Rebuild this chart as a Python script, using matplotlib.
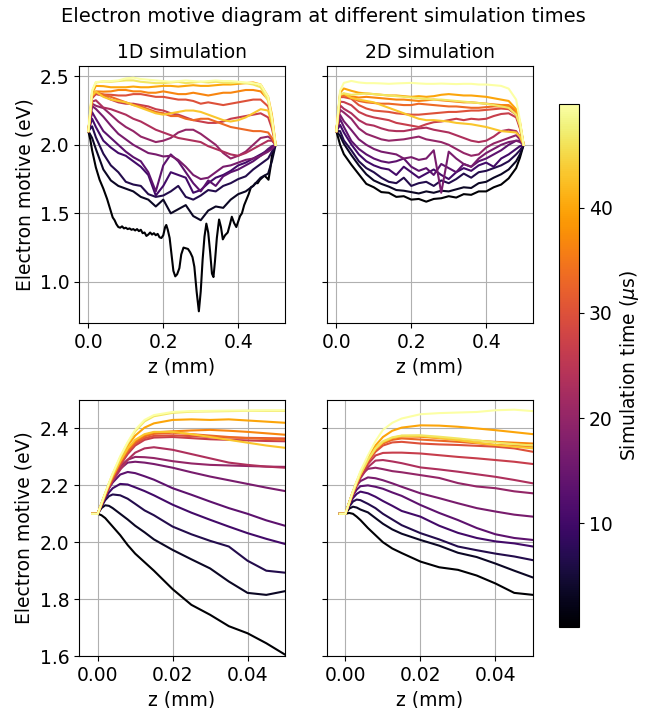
import matplotlib
matplotlib.use("Agg")
import matplotlib.pyplot as plt
from matplotlib import cm, colors

plt.rcParams["font.size"] = 13.5
plt.rcParams["axes.titlesize"] = 13.5
plt.rcParams["figure.titlesize"] = 14

# simulation times of the stored snapshots (us)
TIMES_US = [0.1, 3.4, 6.7, 10.1, 13.4, 16.7, 20.0, 23.3, 26.6, 29.9,
            33.3, 36.6, 39.9, 43.2, 46.5, 49.9]

# full gap profile (mm)
Z_PROFILE = [0.0, 0.01, 0.02, 0.04, 0.06, 0.08, 0.10, 0.12, 0.14, 0.16,
             0.18, 0.20, 0.22, 0.24, 0.26, 0.28, 0.30, 0.32, 0.34, 0.36,
             0.38, 0.40, 0.42, 0.44, 0.46, 0.48, 0.49, 0.50]

# first snapshot of the 1D run is stored on a finer mesh
Z_1D_FIRST = [0.0, 0.005, 0.01, 0.02, 0.03, 0.04, 0.05, 0.055, 0.06, 0.065,
              0.07, 0.075, 0.08, 0.085, 0.09, 0.095, 0.10, 0.105, 0.11, 0.115,
              0.12, 0.125, 0.13, 0.135, 0.14, 0.145, 0.15, 0.155, 0.16, 0.165,
              0.17, 0.175, 0.18, 0.185, 0.19, 0.195, 0.20, 0.205, 0.208, 0.212,
              0.217, 0.222, 0.227, 0.232, 0.237, 0.243, 0.248, 0.254, 0.26, 0.266,
              0.272, 0.278, 0.283, 0.289, 0.295, 0.30, 0.305, 0.31, 0.315, 0.32,
              0.325, 0.33, 0.334, 0.338, 0.343, 0.349, 0.354, 0.359, 0.365, 0.372,
              0.378, 0.383, 0.389, 0.395, 0.40, 0.405, 0.41, 0.416, 0.422, 0.428,
              0.434, 0.44, 0.446, 0.452, 0.458, 0.464, 0.47, 0.476, 0.481, 0.486,
              0.49, 0.495, 0.50]
V_1D_FIRST = [2.10, 2.04, 1.96, 1.835, 1.745, 1.68, 1.605, 1.56, 1.515, 1.47,
              1.45, 1.42, 1.40, 1.395, 1.405, 1.39, 1.395, 1.385, 1.39, 1.38,
              1.385, 1.375, 1.385, 1.37, 1.38, 1.355, 1.36, 1.335, 1.345, 1.36,
              1.345, 1.355, 1.34, 1.35, 1.325, 1.32, 1.34, 1.40, 1.415, 1.38,
              1.32, 1.20, 1.08, 1.04, 1.055, 1.10, 1.20, 1.25, 1.245, 1.24,
              1.215, 1.18, 1.11, 0.93, 0.785, 0.93, 1.16, 1.33, 1.425, 1.36,
              1.22, 1.06, 1.035, 1.15, 1.32, 1.455, 1.40, 1.31, 1.34, 1.36,
              1.42, 1.475, 1.43, 1.40, 1.44, 1.48, 1.50, 1.56, 1.60, 1.64,
              1.69, 1.70, 1.72, 1.72, 1.745, 1.76, 1.775, 1.76, 1.745, 1.83,
              1.92, 1.97, 2.00]

# 1D run, snapshots 2..16 on Z_PROFILE
V_1D_PROFILE = [
    [2.10, 2.05, 1.97, 1.82, 1.74, 1.70, 1.68, 1.66, 1.62, 1.60, 1.55, 1.60, 1.50, 1.53,
     1.56, 1.48, 1.45, 1.52, 1.55, 1.54, 1.60, 1.64, 1.66, 1.70, 1.76, 1.79, 1.88, 2.00],
    [2.10, 2.135, 2.055, 1.935, 1.85, 1.80, 1.73, 1.71, 1.70, 1.64, 1.62, 1.63, 1.66, 1.70,
     1.62, 1.60, 1.63, 1.67, 1.66, 1.70, 1.72, 1.75, 1.77, 1.82, 1.86, 1.90, 1.95, 2.00],
    [2.10, 2.19, 2.13, 2.03, 1.98, 1.94, 1.92, 1.88, 1.84, 1.78, 1.63, 1.70, 1.80, 1.78,
     1.76, 1.65, 1.67, 1.72, 1.76, 1.78, 1.81, 1.85, 1.87, 1.90, 1.93, 1.96, 1.98, 2.00],
    [2.10, 2.238, 2.19, 2.10, 2.05, 2.00, 1.95, 1.91, 1.88, 1.80, 1.66, 1.85, 1.93, 1.88,
     1.80, 1.72, 1.66, 1.74, 1.70, 1.77, 1.80, 1.82, 1.85, 1.88, 1.92, 1.97, 1.99, 2.00],
    [2.10, 2.283, 2.262, 2.205, 2.14, 2.08, 2.04, 2.00, 1.97, 1.94, 1.93, 1.915, 1.92, 1.89,
     1.84, 1.78, 1.75, 1.76, 1.80, 1.84, 1.85, 1.87, 1.89, 1.90, 1.92, 1.95, 1.97, 2.00],
    [2.10, 2.30, 2.285, 2.268, 2.22, 2.17, 2.13, 2.10, 2.06, 2.04, 2.02, 2.03, 2.05, 2.09,
     2.11, 2.11, 2.08, 2.04, 2.00, 1.94, 1.90, 1.92, 1.95, 2.00, 2.05, 2.06, 2.04, 2.00],
    [2.10, 2.315, 2.325, 2.272, 2.26, 2.24, 2.22, 2.19, 2.17, 2.14, 2.11, 2.09, 2.07, 2.05,
     2.04, 2.03, 2.02, 1.99, 1.97, 1.95, 1.93, 1.92, 1.94, 1.97, 2.00, 2.03, 2.03, 2.00],
    [2.10, 2.34, 2.37, 2.358, 2.33, 2.31, 2.30, 2.30, 2.29, 2.28, 2.26, 2.25, 2.23, 2.22,
     2.20, 2.18, 2.17, 2.16, 2.16, 2.17, 2.19, 2.20, 2.21, 2.22, 2.23, 2.20, 2.12, 2.00],
    [2.10, 2.347, 2.376, 2.367, 2.365, 2.36, 2.36, 2.37, 2.37, 2.36, 2.35, 2.35, 2.34, 2.33,
     2.33, 2.32, 2.30, 2.31, 2.30, 2.29, 2.30, 2.31, 2.32, 2.33, 2.33, 2.28, 2.16, 2.00],
    [2.10, 2.352, 2.385, 2.366, 2.35, 2.33, 2.31, 2.29, 2.28, 2.26, 2.24, 2.23, 2.21, 2.21,
     2.19, 2.18, 2.19, 2.19, 2.17, 2.15, 2.13, 2.12, 2.11, 2.10, 2.10, 2.09, 2.05, 2.00],
    [2.10, 2.357, 2.39, 2.388, 2.39, 2.40, 2.40, 2.39, 2.39, 2.38, 2.38, 2.39, 2.38, 2.37,
     2.37, 2.38, 2.37, 2.36, 2.37, 2.38, 2.38, 2.39, 2.40, 2.40, 2.39, 2.33, 2.20, 2.00],
    [2.10, 2.375, 2.43, 2.428, 2.42, 2.42, 2.42, 2.425, 2.42, 2.42, 2.425, 2.43, 2.43, 2.425,
     2.43, 2.435, 2.43, 2.43, 2.435, 2.44, 2.44, 2.445, 2.45, 2.455, 2.44, 2.35, 2.22, 2.00],
    [2.10, 2.36, 2.388, 2.35, 2.33, 2.32, 2.31, 2.29, 2.27, 2.25, 2.23, 2.22, 2.23, 2.24,
     2.25, 2.25, 2.24, 2.22, 2.20, 2.18, 2.17, 2.18, 2.20, 2.23, 2.26, 2.25, 2.15, 2.00],
    [2.10, 2.39, 2.455, 2.462, 2.46, 2.465, 2.47, 2.47, 2.46, 2.455, 2.45, 2.45, 2.455, 2.46,
     2.45, 2.455, 2.46, 2.455, 2.46, 2.455, 2.45, 2.455, 2.45, 2.44, 2.42, 2.32, 2.18, 2.00],
    [2.10, 2.395, 2.458, 2.463, 2.465, 2.47, 2.485, 2.49, 2.48, 2.475, 2.47, 2.465, 2.46, 2.465,
     2.47, 2.465, 2.46, 2.465, 2.47, 2.465, 2.465, 2.46, 2.455, 2.45, 2.44, 2.35, 2.20, 2.00],
]

# 2D run (axis average), all snapshots on Z_PROFILE
V_2D_PROFILE = [
    [2.10, 2.00, 1.932, 1.855, 1.785, 1.715, 1.69, 1.655, 1.65, 1.62, 1.625, 1.60, 1.605, 1.585,
     1.605, 1.61, 1.625, 1.615, 1.64, 1.635, 1.66, 1.66, 1.69, 1.71, 1.755, 1.83, 1.905, 2.00],
    [2.10, 2.065, 2.008, 1.925, 1.85, 1.785, 1.74, 1.715, 1.695, 1.67, 1.665, 1.655, 1.645, 1.66,
     1.65, 1.665, 1.66, 1.675, 1.69, 1.685, 1.72, 1.73, 1.76, 1.785, 1.82, 1.88, 1.93, 2.00],
    [2.10, 2.10, 2.032, 1.96, 1.88, 1.83, 1.80, 1.76, 1.73, 1.72, 1.76, 1.70, 1.72, 1.73,
     1.70, 1.74, 1.72, 1.75, 1.79, 1.76, 1.80, 1.81, 1.83, 1.85, 1.88, 1.93, 1.96, 2.00],
    [2.10, 2.145, 2.09, 2.003, 1.93, 1.88, 1.85, 1.83, 1.82, 1.78, 1.84, 1.80, 1.76, 1.79,
     1.82, 1.78, 1.75, 1.80, 1.83, 1.81, 1.85, 1.87, 1.84, 1.90, 1.93, 1.97, 1.99, 2.00],
    [2.10, 2.188, 2.131, 2.028, 1.97, 1.93, 1.90, 1.88, 1.87, 1.88, 1.90, 1.84, 1.81, 1.83,
     1.78, 1.86, 1.83, 1.80, 1.86, 1.84, 1.88, 1.90, 1.93, 1.96, 2.00, 2.03, 2.03, 2.00],
    [2.10, 2.218, 2.172, 2.108, 2.04, 2.00, 1.97, 1.95, 1.94, 1.93, 1.90, 1.91, 1.89, 1.90,
     1.96, 1.65, 1.95, 1.90, 1.86, 1.84, 1.90, 1.94, 1.97, 2.00, 2.02, 2.03, 2.02, 2.00],
    [2.10, 2.255, 2.236, 2.19, 2.12, 2.08, 2.06, 2.04, 2.03, 2.035, 2.04, 2.05, 2.06, 2.04,
     2.03, 2.02, 2.00, 1.97, 1.94, 1.92, 1.93, 1.98, 2.01, 2.03, 2.05, 2.07, 2.04, 2.00],
    [2.10, 2.288, 2.263, 2.23, 2.18, 2.15, 2.14, 2.12, 2.105, 2.10, 2.10, 2.11, 2.12, 2.125,
     2.11, 2.10, 2.09, 2.07, 2.05, 2.03, 2.02, 2.03, 2.06, 2.10, 2.11, 2.10, 2.06, 2.00],
    [2.10, 2.315, 2.312, 2.289, 2.24, 2.215, 2.20, 2.19, 2.18, 2.16, 2.15, 2.14, 2.13, 2.15,
     2.165, 2.17, 2.18, 2.19, 2.18, 2.19, 2.185, 2.19, 2.21, 2.225, 2.23, 2.20, 2.12, 2.00],
    [2.10, 2.348, 2.348, 2.336, 2.29, 2.265, 2.25, 2.245, 2.24, 2.23, 2.225, 2.22, 2.22, 2.225,
     2.23, 2.235, 2.24, 2.24, 2.245, 2.25, 2.25, 2.255, 2.26, 2.265, 2.26, 2.22, 2.13, 2.00],
    [2.10, 2.355, 2.362, 2.342, 2.32, 2.31, 2.305, 2.30, 2.30, 2.295, 2.29, 2.29, 2.30, 2.295,
     2.29, 2.285, 2.28, 2.28, 2.275, 2.27, 2.27, 2.275, 2.28, 2.28, 2.28, 2.24, 2.15, 2.00],
    [2.10, 2.362, 2.371, 2.353, 2.345, 2.35, 2.345, 2.34, 2.335, 2.33, 2.33, 2.325, 2.32, 2.325,
     2.33, 2.325, 2.32, 2.315, 2.31, 2.31, 2.305, 2.30, 2.295, 2.29, 2.29, 2.25, 2.16, 2.00],
    [2.10, 2.38, 2.411, 2.394, 2.38, 2.375, 2.37, 2.365, 2.36, 2.36, 2.355, 2.35, 2.355, 2.35,
     2.355, 2.365, 2.37, 2.365, 2.36, 2.36, 2.355, 2.35, 2.34, 2.33, 2.32, 2.26, 2.17, 2.00],
    [2.10, 2.365, 2.374, 2.342, 2.33, 2.32, 2.31, 2.29, 2.27, 2.25, 2.23, 2.21, 2.19, 2.18,
     2.18, 2.175, 2.17, 2.16, 2.155, 2.15, 2.14, 2.13, 2.115, 2.10, 2.095, 2.09, 2.06, 2.00],
    [2.10, 2.367, 2.376, 2.365, 2.37, 2.375, 2.37, 2.365, 2.36, 2.355, 2.35, 2.345, 2.34, 2.335,
     2.33, 2.33, 2.325, 2.32, 2.315, 2.31, 2.305, 2.30, 2.29, 2.28, 2.27, 2.22, 2.14, 2.00],
    [2.10, 2.395, 2.452, 2.466, 2.455, 2.45, 2.45, 2.448, 2.445, 2.448, 2.45, 2.452, 2.448, 2.445,
     2.445, 2.447, 2.445, 2.443, 2.445, 2.445, 2.44, 2.44, 2.435, 2.43, 2.41, 2.33, 2.18, 2.00],
]

# entrance region (mm), includes the short flat piece upstream of z = 0
Z_ENTRANCE = [-0.0015, 0.0, 0.001, 0.002, 0.003, 0.004, 0.006, 0.008, 0.010, 0.0125,
              0.015, 0.02, 0.025, 0.03, 0.035, 0.04, 0.045, 0.05]

V_1D_ENTRANCE = [
    [2.10, 2.10, 2.095, 2.085, 2.07, 2.055, 2.025, 1.99, 1.96, 1.93, 1.90, 1.835, 1.78, 1.745, 1.705, 1.68, 1.645, 1.605],
    [2.10, 2.10, 2.12, 2.13, 2.128, 2.12, 2.10, 2.08, 2.058, 2.035, 2.01, 1.973, 1.94, 1.908, 1.862, 1.822, 1.815, 1.828],
    [2.10, 2.10, 2.125, 2.148, 2.162, 2.168, 2.165, 2.153, 2.135, 2.112, 2.095, 2.055, 2.028, 2.005, 1.985, 1.935, 1.90, 1.893],
    [2.10, 2.10, 2.13, 2.155, 2.175, 2.19, 2.205, 2.203, 2.193, 2.18, 2.165, 2.132, 2.104, 2.079, 2.055, 2.032, 2.012, 1.994],
    [2.10, 2.10, 2.135, 2.165, 2.19, 2.21, 2.238, 2.247, 2.243, 2.232, 2.22, 2.19, 2.167, 2.143, 2.12, 2.10, 2.077, 2.058],
    [2.10, 2.10, 2.135, 2.168, 2.196, 2.22, 2.258, 2.28, 2.283, 2.28, 2.275, 2.262, 2.246, 2.231, 2.218, 2.205, 2.192, 2.18],
    [2.10, 2.10, 2.135, 2.17, 2.20, 2.226, 2.267, 2.29, 2.30, 2.299, 2.296, 2.285, 2.277, 2.272, 2.27, 2.268, 2.266, 2.265],
    [2.10, 2.10, 2.13, 2.16, 2.19, 2.215, 2.255, 2.29, 2.315, 2.33, 2.334, 2.325, 2.31, 2.295, 2.28, 2.272, 2.266, 2.262],
    [2.10, 2.10, 2.132, 2.165, 2.195, 2.222, 2.27, 2.31, 2.34, 2.36, 2.368, 2.37, 2.366, 2.362, 2.36, 2.358, 2.356, 2.355],
    [2.10, 2.10, 2.133, 2.167, 2.198, 2.226, 2.275, 2.317, 2.347, 2.366, 2.374, 2.376, 2.373, 2.37, 2.368, 2.367, 2.366, 2.365],
    [2.10, 2.10, 2.134, 2.168, 2.20, 2.23, 2.28, 2.322, 2.352, 2.372, 2.381, 2.385, 2.38, 2.375, 2.37, 2.366, 2.363, 2.36],
    [2.10, 2.10, 2.135, 2.17, 2.203, 2.233, 2.285, 2.327, 2.357, 2.377, 2.386, 2.39, 2.393, 2.395, 2.392, 2.388, 2.383, 2.378],
    [2.10, 2.10, 2.136, 2.172, 2.206, 2.238, 2.294, 2.34, 2.375, 2.403, 2.418, 2.43, 2.432, 2.43, 2.432, 2.428, 2.424, 2.42],
    [2.10, 2.10, 2.135, 2.17, 2.203, 2.233, 2.285, 2.33, 2.36, 2.38, 2.388, 2.388, 2.38, 2.37, 2.36, 2.35, 2.34, 2.332],
    [2.10, 2.10, 2.136, 2.172, 2.207, 2.24, 2.298, 2.348, 2.39, 2.425, 2.443, 2.455, 2.459, 2.46, 2.461, 2.462, 2.462, 2.462],
    [2.10, 2.10, 2.137, 2.173, 2.208, 2.242, 2.302, 2.352, 2.395, 2.43, 2.447, 2.458, 2.461, 2.462, 2.463, 2.463, 2.464, 2.464],
]

V_2D_ENTRANCE = [
    [2.10, 2.10, 2.103, 2.10, 2.09, 2.078, 2.05, 2.025, 2.00, 1.978, 1.962, 1.932, 1.912, 1.903, 1.883, 1.855, 1.822, 1.815],
    [2.10, 2.10, 2.118, 2.125, 2.122, 2.115, 2.105, 2.085, 2.065, 2.045, 2.03, 2.008, 1.988, 1.963, 1.948, 1.925, 1.90, 1.876],
    [2.10, 2.10, 2.125, 2.143, 2.15, 2.148, 2.135, 2.12, 2.10, 2.08, 2.06, 2.032, 2.01, 1.985, 1.972, 1.96, 1.95, 1.937],
    [2.10, 2.10, 2.13, 2.155, 2.17, 2.178, 2.172, 2.16, 2.145, 2.128, 2.11, 2.09, 2.058, 2.033, 2.015, 2.003, 1.996, 1.985],
    [2.10, 2.10, 2.135, 2.165, 2.185, 2.197, 2.20, 2.195, 2.188, 2.175, 2.163, 2.131, 2.103, 2.078, 2.05, 2.028, 2.015, 2.008],
    [2.10, 2.10, 2.14, 2.175, 2.20, 2.215, 2.228, 2.225, 2.218, 2.207, 2.195, 2.172, 2.155, 2.137, 2.12, 2.108, 2.097, 2.09],
    [2.10, 2.10, 2.14, 2.178, 2.21, 2.235, 2.258, 2.262, 2.257, 2.25, 2.246, 2.236, 2.226, 2.208, 2.196, 2.19, 2.179, 2.172],
    [2.10, 2.10, 2.135, 2.168, 2.198, 2.225, 2.264, 2.287, 2.289, 2.284, 2.278, 2.263, 2.256, 2.248, 2.239, 2.23, 2.219, 2.207],
    [2.10, 2.10, 2.137, 2.172, 2.204, 2.232, 2.275, 2.305, 2.314, 2.315, 2.315, 2.312, 2.306, 2.30, 2.295, 2.289, 2.283, 2.275],
    [2.10, 2.10, 2.138, 2.174, 2.207, 2.236, 2.283, 2.318, 2.34, 2.351, 2.353, 2.347, 2.344, 2.342, 2.339, 2.336, 2.33, 2.318],
    [2.10, 2.10, 2.138, 2.175, 2.208, 2.238, 2.287, 2.324, 2.347, 2.36, 2.365, 2.361, 2.357, 2.353, 2.348, 2.342, 2.339, 2.336],
    [2.10, 2.10, 2.139, 2.176, 2.21, 2.24, 2.29, 2.328, 2.352, 2.366, 2.372, 2.371, 2.366, 2.361, 2.357, 2.353, 2.35, 2.347],
    [2.10, 2.10, 2.14, 2.178, 2.213, 2.245, 2.298, 2.34, 2.37, 2.392, 2.403, 2.411, 2.41, 2.406, 2.40, 2.394, 2.387, 2.38],
    [2.10, 2.10, 2.139, 2.176, 2.21, 2.24, 2.29, 2.328, 2.352, 2.367, 2.374, 2.374, 2.367, 2.359, 2.35, 2.342, 2.336, 2.33],
    [2.10, 2.10, 2.139, 2.176, 2.21, 2.24, 2.29, 2.33, 2.355, 2.369, 2.375, 2.376, 2.371, 2.365, 2.358, 2.351, 2.345, 2.34],
    [2.10, 2.10, 2.14, 2.18, 2.215, 2.25, 2.305, 2.355, 2.395, 2.42, 2.435, 2.45, 2.454, 2.456, 2.458, 2.464, 2.466, 2.461],
]


def main():
    cmap = plt.get_cmap("inferno")
    norm = colors.Normalize(vmin=TIMES_US[0], vmax=TIMES_US[-1])
    line_colors = [cmap(norm(t)) for t in TIMES_US]

    fig = plt.figure(figsize=(6.47, 7.08), dpi=100)
    ax_1d = fig.add_axes([0.1221, 0.5438, 0.3184, 0.3630])
    ax_2d = fig.add_axes([0.5054, 0.5438, 0.3184, 0.3630], sharey=ax_1d)
    ax_1d_in = fig.add_axes([0.1221, 0.0734, 0.3184, 0.3616])
    ax_2d_in = fig.add_axes([0.5049, 0.0734, 0.3189, 0.3616], sharey=ax_1d_in)
    cax = fig.add_axes([0.864, 0.1144, 0.031, 0.7387])

    # full profiles
    ax_1d.plot(Z_1D_FIRST, V_1D_FIRST, color=line_colors[0], lw=1.5)
    for vals, c in zip(V_1D_PROFILE, line_colors[1:]):
        ax_1d.plot(Z_PROFILE, vals, color=c, lw=1.5)
    for vals, c in zip(V_2D_PROFILE, line_colors):
        ax_2d.plot(Z_PROFILE, vals, color=c, lw=1.5)

    # close-up of the entrance
    for vals, c in zip(V_1D_ENTRANCE, line_colors):
        ax_1d_in.plot(Z_ENTRANCE, vals, color=c, lw=1.5)
    for vals, c in zip(V_2D_ENTRANCE, line_colors):
        ax_2d_in.plot(Z_ENTRANCE, vals, color=c, lw=1.5)

    ax_1d.set_title("1D simulation")
    ax_2d.set_title("2D simulation")
    for ax in (ax_1d_in, ax_2d_in):
        ax.set_xlim(-0.005, 0.05)
        ax.set_xticks([0.0, 0.02, 0.04])
    ax_1d_in.set_ylim(1.6, 2.5)
    ax_1d_in.set_yticks([1.6, 1.8, 2.0, 2.2, 2.4])

    for ax in (ax_1d, ax_2d, ax_1d_in, ax_2d_in):
        ax.grid(True)
        ax.set_xlabel("z (mm)")
    for ax in (ax_1d, ax_1d_in):
        ax.set_ylabel("Electron motive (eV)")
    for ax in (ax_2d, ax_2d_in):
        ax.tick_params(labelleft=False)

    sm = cm.ScalarMappable(norm=norm, cmap=cmap)
    cbar = fig.colorbar(sm, cax=cax)
    cbar.set_label(r"Simulation time ($\mu$s)")

    fig.suptitle("Electron motive diagram at different simulation times", y=0.99)
    fig.savefig("out.png", dpi=100)


if __name__ == "__main__":
    main()
